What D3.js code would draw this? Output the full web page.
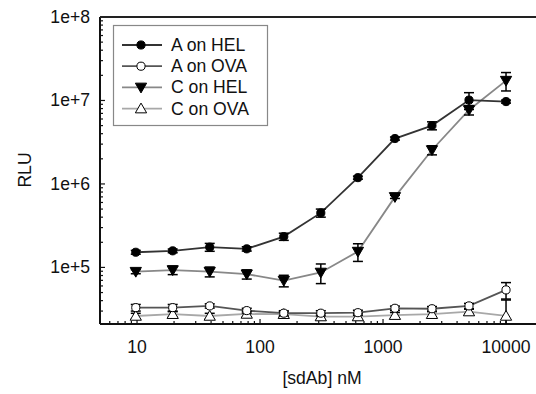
<!DOCTYPE html>
<html>
<head>
<meta charset="utf-8">
<script src="https://cdn.jsdelivr.net/npm/d3@7/dist/d3.min.js"></script>
<style>
html,body{margin:0;padding:0;background:#fff;}
svg{display:block;font-family:"Liberation Sans",Arial,sans-serif;}
</style>
</head>
<body>
<svg id="chart" width="536" height="394"></svg>
<script>
// concentrations (nM)
const conc = [9.77, 19.5, 39, 78, 156, 312, 625, 1250, 2500, 5000, 10000];
const seriesNames = ["A on HEL", "A on OVA", "C on HEL", "C on OVA"];
// RLU means
const aHel = [1.52e5, 1.58e5, 1.75e5, 1.67e5, 2.34e5, 4.5e5, 1.19e6, 3.5e6, 5.0e6, 1.01e7, 9.7e6];
const aOva = [3.3e4, 3.3e4, 3.46e4, 3.04e4, 2.83e4, 2.83e4, 2.87e4, 3.24e4, 3.2e4, 3.46e4, 5.38e4];
const cHel = [8.9e4, 9.3e4, 8.9e4, 8.3e4, 6.95e4, 8.7e4, 1.55e5, 7.0e5, 2.55e6, 7.7e6, 1.73e7];
const cOva = [2.62e4, 2.75e4, 2.62e4, 2.77e4, 2.75e4, 2.58e4, 2.58e4, 2.68e4, 2.75e4, 2.96e4, 2.62e4];
// standard deviations
const aHelSd = [8e3, 8e3, 1.9e4, 1e4, 2.3e4, 5e4, 5e4, 1.5e5, 5.5e5, 2.3e6, 4e5];
const aOvaSd = [3e3, 3e3, 2e3, 2e3, 2e3, 2e3, 2e3, 2e3, 2e3, 2.5e3, 1.2e4];
const cHelSd = [5e3, 1.1e4, 1.2e4, 1.05e4, 1.1e4, 2.3e4, 3.7e4, 3e4, 3.2e5, 1e6, 4.3e6];
const cOvaSd = [2e3, 2e3, 2e3, 2e3, 2e3, 2e3, 2e3, 2e3, 2e3, 2e3, 1.45e4];
const yTickVals = [1e5, 1e6, 1e7, 1e8];
const yTickLabels = ["1e+5", "1e+6", "1e+7", "1e+8"];
const xTickVals = [10, 100, 1000, 10000];
const xTickLabels = ["10", "100", "1000", "10000"];

const svg = d3.select("#chart");
const L = 100, T = 17, B = 324;
const FS = 17.6;
const x = d3.scaleLog().domain([5, 20000]).range([L, L + Math.log10(4000) * 123]);
const y = d3.scaleLog().domain([2.1e4, 1e8]).range([B, T]);

const series = [
  {name: seriesNames[3], v: cOva, sd: cOvaSd, color: "#a8a8a8", sym: d3.symbolTriangle, fill: "#fff", rot: 0, size: 55},
  {name: seriesNames[1], v: aOva, sd: aOvaSd, color: "#555", sym: d3.symbolCircle, fill: "#fff", rot: 0, size: 52},
  {name: seriesNames[2], v: cHel, sd: cHelSd, color: "#888", sym: d3.symbolTriangle, fill: "#000", rot: 180, size: 55},
  {name: seriesNames[0], v: aHel, sd: aHelSd, color: "#333", sym: d3.symbolCircle, fill: "#000", rot: 0, size: 52}
];

// axes ticks (minor)
const minorX = [];
for (let e = 0; e <= 4; e++) for (let m = 1; m <= 9; m++) { const v = m * Math.pow(10, e); if (v >= 5 && v <= 20000) minorX.push(v); }
const minorY = [];
for (let e = 4; e <= 8; e++) for (let m = 1; m <= 9; m++) { const v = m * Math.pow(10, e); if (v >= 2.1e4 && v <= 1e8) minorY.push(v); }

const gx = svg.append("g");
gx.selectAll("line.mx").data(minorX).enter().append("line")
  .attr("x1", d => x(d)).attr("x2", d => x(d))
  .attr("y1", B).attr("y2", d => xTickVals.includes(d) ? B - 5 : B - 3)
  .attr("stroke", "#111").attr("stroke-width", 1.2);
const gy = svg.append("g");
gy.selectAll("line.my").data(minorY).enter().append("line")
  .attr("y1", d => y(d)).attr("y2", d => y(d))
  .attr("x1", L).attr("x2", d => yTickVals.includes(d) ? L + 5 : L + 3)
  .attr("stroke", "#111").attr("stroke-width", 1.2);

// frame
svg.append("line").attr("x1", L).attr("x2", 536).attr("y1", B).attr("y2", B).attr("stroke", "#111").attr("stroke-width", 2);
svg.append("line").attr("x1", L).attr("x2", L).attr("y1", T).attr("y2", B).attr("stroke", "#111").attr("stroke-width", 2);
svg.append("line").attr("x1", L).attr("x2", 536).attr("y1", T).attr("y2", T).attr("stroke", "#222").attr("stroke-width", 2);

// tick labels
svg.selectAll("text.xt").data(xTickVals).enter().append("text")
  .attr("x", d => x(d)).attr("y", 353).attr("text-anchor", "middle")
  .attr("font-size", FS).attr("fill", "#111").text((d, i) => xTickLabels[i]);
svg.selectAll("text.yt").data(yTickVals).enter().append("text")
  .attr("x", 90).attr("y", d => y(d) + 6).attr("text-anchor", "end")
  .attr("font-size", FS).attr("fill", "#111").text((d, i) => yTickLabels[i]);

svg.append("text").attr("x", 322).attr("y", 384).attr("text-anchor", "middle")
  .attr("font-size", FS).attr("fill", "#111").text("[sdAb] nM");
svg.append("text").attr("transform", "translate(31,170) rotate(-90)").attr("text-anchor", "middle")
  .attr("font-size", FS).attr("fill", "#111").text("RLU");

// data
const plot = svg.append("g");
series.forEach(s => {
  const pts = conc.map((c, i) => ({c, v: s.v[i], sd: s.sd[i]}));
  plot.append("path").datum(pts)
    .attr("d", d3.line().x(d => x(d.c)).y(d => y(d.v)))
    .attr("fill", "none").attr("stroke", s.color).attr("stroke-width", 1.8);
});
series.forEach(s => {
  const pts = conc.map((c, i) => ({c, v: s.v[i], sd: s.sd[i]}));
  const g = plot.append("g");
  pts.forEach(d => {
    const yt = y(d.v + d.sd);
    const yb = d.v - d.sd > 2.1e4 ? y(d.v - d.sd) : B;
    const cx = x(d.c);
    g.append("line").attr("x1", cx).attr("x2", cx).attr("y1", yt).attr("y2", yb).attr("stroke", "#000").attr("stroke-width", 1.5);
    g.append("line").attr("x1", cx - 5).attr("x2", cx + 5).attr("y1", yt).attr("y2", yt).attr("stroke", "#000").attr("stroke-width", 1.5);
    if (d.v - d.sd > 2.1e4) g.append("line").attr("x1", cx - 5).attr("x2", cx + 5).attr("y1", yb).attr("y2", yb).attr("stroke", "#000").attr("stroke-width", 1.5);
  });
  g.selectAll("path.m").data(pts).enter().append("path")
    .attr("d", d3.symbol().type(s.sym).size(s.size))
    .attr("transform", d => `translate(${x(d.c)},${y(d.v) + (s.sym === d3.symbolTriangle ? (s.rot ? -1 : 1) : 0)}) rotate(${s.rot})`)
    .attr("fill", s.fill).attr("stroke", "#000").attr("stroke-width", 1);
});

// legend
const leg = svg.append("g");
leg.append("rect").attr("x", 113.5).attr("y", 25.5).attr("width", 154).attr("height", 100)
  .attr("fill", "#fff").attr("stroke", "#888").attr("stroke-width", 1.2);
const legOrder = [series[3], series[1], series[2], series[0]];
legOrder.forEach((s, i) => {
  const ly = 45 + i * 21.2;
  leg.append("line").attr("x1", 122).attr("x2", 162).attr("y1", ly).attr("y2", ly).attr("stroke", s.color).attr("stroke-width", 1.8);
  leg.append("path").attr("d", d3.symbol().type(s.sym).size(s.size))
    .attr("transform", `translate(141,${ly + (s.sym === d3.symbolTriangle ? (s.rot ? -1 : 1) : 0)}) rotate(${s.rot})`)
    .attr("fill", s.fill).attr("stroke", "#000").attr("stroke-width", 1);
  leg.append("text").attr("x", 171).attr("y", ly + 6).attr("font-size", FS).attr("fill", "#111").text(s.name);
});
</script>
</body>
</html>
